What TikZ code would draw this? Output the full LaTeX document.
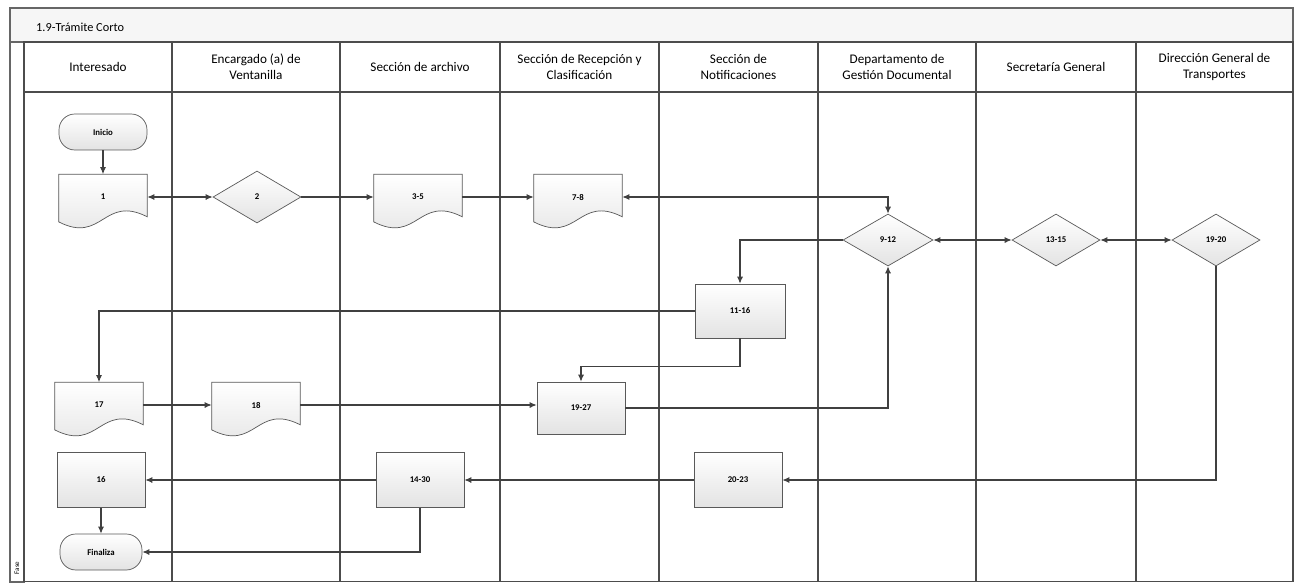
\documentclass[tikz,border=0pt]{standalone}
\usepackage{fontspec}
\setmainfont{Carlito}
\usetikzlibrary{shapes.geometric,arrows.meta,backgrounds}

\tikzset{
	laneBox/.style={rectangle, draw=black!70, line width=0.6pt, minimum height=10.8cm},
	headBox/.style={rectangle, draw=black!70, line width=0.6pt, minimum height=1cm, align=center, font=\fontsize{7.5}{9}\selectfont},
	stepShade/.style={top color=white, bottom color=gray!22, draw=gray!70!black, line width=0.4pt},
	stepFont/.style={font=\fontsize{5}{6}\selectfont\bfseries},
	procBox/.style={rectangle, stepShade, stepFont, minimum width=1.76cm, minimum height=1.1cm},
	docBox/.style={rectangle, stepFont, minimum width=1.76cm, minimum height=0.9cm},
	decBox/.style={diamond, stepShade, stepFont, aspect=1.7, inner sep=0pt, minimum width=1.76cm, minimum height=1.04cm},
	termBox/.style={rectangle, rounded corners=9pt, stepShade, stepFont, minimum width=1.76cm, minimum height=0.72cm},
	flow/.style={line width=0.6pt, draw=black!75}
}

\begin{document}
\begin{tikzpicture}[x=0.02cm, y=-0.02cm, >={Latex[length=4pt,width=3.5pt]}]
	\useasboundingbox (0,0) rectangle (1295,585);

	% frame and title
	\draw[draw=black!60, fill=gray!7, line width=0.6pt] (10,8) rectangle (1293,42);
	\draw[draw=black!60, line width=0.6pt] (10,42) rectangle (24,582);
	\node[anchor=west, font=\fontsize{7}{8}\selectfont](titleText) at (30,27){1.9-Trámite Corto};
	\node[rotate=90, font=\fontsize{4}{5}\selectfont](faseText) at (17,568){Fase};

	% lanes
	\node[laneBox, minimum width=2.96cm](lane1Box) at (98,312){};
	\node[laneBox, minimum width=3.36cm](lane2Box) at (256,312){};
	\node[laneBox, minimum width=3.2cm](lane3Box) at (420,312){};
	\node[laneBox, minimum width=3.18cm](lane4Box) at (579.5,312){};
	\node[laneBox, minimum width=3.18cm](lane5Box) at (738.5,312){};
	\node[laneBox, minimum width=3.16cm](lane6Box) at (897,312){};
	\node[laneBox, minimum width=3.2cm](lane7Box) at (1056,312){};
	\node[laneBox, minimum width=3.14cm](lane8Box) at (1214.5,312){};

	\node[headBox, minimum width=2.96cm](head1Box) at (98,67){Interesado};
	\node[headBox, minimum width=3.36cm](head2Box) at (256,67){Encargado (a) de\\Ventanilla};
	\node[headBox, minimum width=3.2cm](head3Box) at (420,67){Sección de archivo};
	\node[headBox, minimum width=3.18cm](head4Box) at (579.5,67){Sección de Recepción y\\Clasificación};
	\node[headBox, minimum width=3.18cm](head5Box) at (738.5,67){Sección de\\Notificaciones};
	\node[headBox, minimum width=3.16cm](head6Box) at (897,67){Departamento de\\Gestión Documental};
	\node[headBox, minimum width=3.2cm](head7Box) at (1056,67){Secretaría General};
	\node[headBox, minimum width=3.14cm](head8Box) at (1214.5,67){Dirección General de\\Transportes};

	% steps
	\node[termBox](inicio) at (103,132){Inicio};
	\node[docBox](uno) at (103,197){1};
	\node[decBox](dos) at (257,197){2};
	\node[docBox](tresCinco) at (418,197){3-5};
	\node[docBox](sieteOcho) at (578,197){7-8};
	\node[decBox, minimum width=1.8cm](nueveDoce) at (888,240){9-12};
	\node[decBox](treceQuince) at (1056,240){13-15};
	\node[decBox](diecinueveVeinte) at (1216,240){19-20};
	\node[procBox, minimum width=1.8cm, minimum height=1.08cm](onceDieciseis) at (740,311){11-16};
	\node[docBox](diecisiete) at (99,405){17};
	\node[docBox](dieciocho) at (256,405){18};
	\node[procBox, minimum height=1.04cm](diecinueveVeintisiete) at (581,408){19-27};
	\node[procBox](dieciseis) at (101,480){16};
	\node[procBox](catorceTreinta) at (420,480){14-30};
	\node[procBox](veinteVeintitres) at (738,480){20-23};
	\node[termBox, minimum width=1.64cm](finaliza) at (101,552){Finaliza};

	% document outlines
	\begin{scope}[on background layer]
		\foreach \n in {uno,tresCinco,sieteOcho,diecisiete,dieciocho}
			\draw[stepShade] (\n.north west) -- (\n.north east) -- ([yshift=0.06cm]\n.south east) .. controls +(-0.88cm,0.45cm) and +(0.88cm,-0.45cm) .. ([yshift=-0.04cm]\n.south west) -- cycle;
	\end{scope}

	% draw flow edges
	\draw[->, flow] (inicio.south) -- (uno.north);
	\draw[<->, flow] (uno.east) -- (dos.west);
	\draw[->, flow] (dos.east) -- (tresCinco.west);
	\draw[->, flow] (tresCinco.east) -- (sieteOcho.west);
	\draw[<->, flow] (sieteOcho.east) -| (nueveDoce.north);
	\draw[->, flow] (nueveDoce.west) -| (onceDieciseis.north);
	\draw[<->, flow] (nueveDoce.east) -- (treceQuince.west);
	\draw[<->, flow] (treceQuince.east) -- (diecinueveVeinte.west);
	\draw[->, flow] (diecinueveVeinte.south) |- (veinteVeintitres.east);
	\draw[->, flow] (onceDieciseis.west) -| (diecisiete.north);
	\draw[->, flow] (onceDieciseis.south) -- ++(0cm,-0.56cm) -| (diecinueveVeintisiete.north);
	\draw[->, flow] (diecisiete.east) -- (dieciocho.west);
	\draw[->, flow] (dieciocho.east) -- (dieciocho.east -| diecinueveVeintisiete.west);
	\draw[->, flow] (diecinueveVeintisiete.east) -| (nueveDoce.south);

	% draw return edges
	\draw[->, flow] (veinteVeintitres.west) -- (catorceTreinta.east);
	\draw[->, flow] (catorceTreinta.west) -- (dieciseis.east);
	\draw[->, flow] (dieciseis.south) -- (finaliza.north);
	\draw[->, flow] (catorceTreinta.south) |- (finaliza.east);

\end{tikzpicture}
\end{document}
